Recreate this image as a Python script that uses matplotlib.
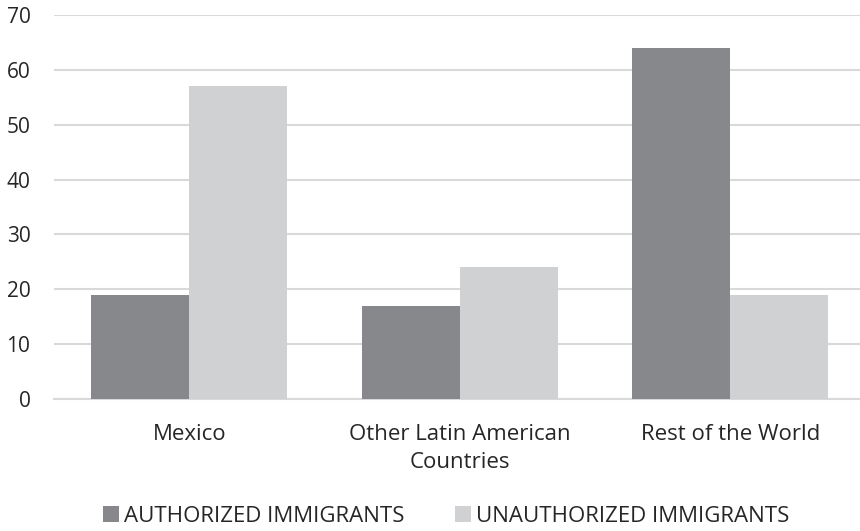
import numpy as np
import matplotlib.pyplot as plt

categories = ['Mexico', 'Other Latin American\nCountries', 'Rest of the World']
authorized = [19, 17, 64]
unauthorized = [57, 24, 19]
series_names = ['AUTHORIZED IMMIGRANTS', 'UNAUTHORIZED IMMIGRANTS']

plt.rcParams['font.family'] = ['Open Sans', 'DejaVu Sans']

fig = plt.figure(figsize=(8.6, 5.31), dpi=100)
ax = fig.add_axes([54 / 860, 132 / 531, 806 / 860, 384 / 531])

x = np.arange(len(categories))
w = 0.363
ax.bar(x - w / 2, authorized, w, color='#87888c', label=series_names[0], zorder=3)
ax.bar(x + w / 2, unauthorized, w, color='#d0d1d3', label=series_names[1], zorder=3)

ax.set_xlim(-0.5, 2.48)
ax.set_ylim(0, 70)
ax.set_yticks(range(0, 71, 10))
ax.yaxis.grid(True, color='#d9d9d9', linewidth=1.5, zorder=0)
for s in ['top', 'right', 'left']:
    ax.spines[s].set_visible(False)
ax.spines['bottom'].set_color('#d9d9d9')
ax.spines['bottom'].set_linewidth(1.5)
ax.tick_params(axis='both', length=0, colors='#262626')
ax.tick_params(axis='y', pad=17, labelsize=15)
ax.tick_params(axis='x', pad=18, labelsize=16)
ax.set_xticks(x)
ax.set_xticklabels(categories, linespacing=1.45)

fig.legend(loc='lower center', bbox_to_anchor=(0.519, -0.03), ncol=2, frameon=False,
           fontsize=16, handlelength=0.72, handleheight=0.72, handletextpad=0.22,
           columnspacing=2.3, labelcolor='#262626')

fig.savefig('out.png', dpi=100)
